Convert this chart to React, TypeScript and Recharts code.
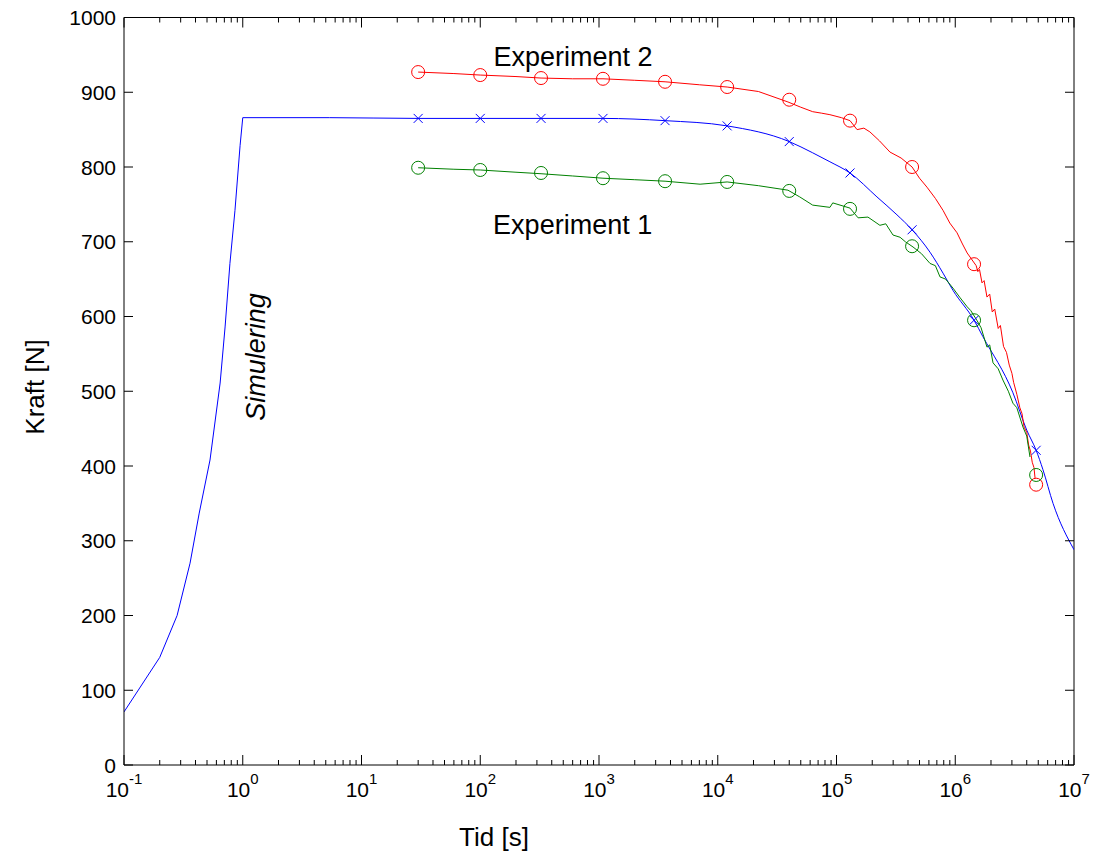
//
// Kraft vs tid: simulering och experiment (log x-axel)
//
import {
  ComposedChart,
  Line,
  Scatter,
  XAxis,
  YAxis,
  ReferenceLine,
  ReferenceDot,
} from 'recharts';

const FONT = '"Liberation Sans", Arial, Helvetica, sans-serif';

// plot box in page pixels (chart sits at 0,0)
const PLOT = { left: 124, right: 1074, top: 17.5, bottom: 765 };

// Simulering (blå) - pålastning, styckvis linjär
const simRiseX = [0.1, 0.2, 0.28, 0.36, 0.43, 0.53, 0.645, 0.71, 0.78, 0.86, 0.95, 1];
const simRiseY = [71, 144, 200, 270, 337, 408, 511, 586, 671, 742, 829, 866];
// Simulering (blå) - relaxation
const simX = [1, 5.4, 30, 100, 325, 1080, 3600, 12000, 40000, 63000, 88000, 130000, 219000, 323000, 433000, 613000, 789000, 957000, 1.44e6, 1.71e6, 3.06e6, 4.0e6, 4.8e6, 5.48e6, 6.66e6, 1e7];
const simY = [866, 866, 865, 865, 865, 865, 862, 855, 834, 819, 807, 792, 760, 736, 716, 686, 658, 635, 595, 573, 498, 448, 421, 395, 350, 288];

// markörer (samma tider för alla tre serier)
const markX = [30, 100, 325, 1080, 3600, 12000, 40000, 130000, 433000, 1.44e6, 4.8e6];
const simMarkY = [865, 865, 865, 865, 862, 855, 834, 792, 716, 595, 421];
const exp2MarkY = [927, 923, 919, 918, 914, 907, 890, 862, 800, 670, 375];
const exp1MarkY = [799, 796, 792, 785, 781, 780, 768, 744, 694, 595, 388];

// Experiment 2 (röd)
const exp2X = [30, 60, 100, 200, 325, 600, 1080, 2000, 3600, 7000, 12000, 22000, 39000, 50000, 63000, 75000, 88000, 110000, 130000, 149000, 170000, 191000, 230000, 282000, 350000, 433000, 500000, 578000, 680000, 789000, 900000, 1.035e6, 1.15e6, 1.26e6, 1.5e6, 1.55e6, 1.6e6, 1.68e6, 1.75e6, 1.85e6, 1.95e6, 2.05e6, 2.15e6, 2.3e6, 2.4e6, 2.55e6, 2.7e6, 2.85e6, 3.0e6, 3.1e6, 3.3e6, 3.5e6, 3.65e6, 3.8e6, 4.0e6, 4.15e6, 4.3e6, 4.45e6, 4.6e6, 4.7e6];
const exp2Y = [927, 925, 923, 921, 919, 918, 918, 916, 914, 910, 907, 901, 887, 880, 874, 872, 870, 866, 862, 850, 852, 847, 835, 820, 812, 800, 785, 773, 758, 742, 725, 712, 697, 685, 668, 660, 663, 645, 648, 626, 630, 606, 610, 584, 588, 560, 552, 535, 524, 512, 496, 478, 470, 452, 445, 428, 420, 405, 398, 384];

// Experiment 1 (grön)
const exp1X = [30, 60, 100, 200, 325, 600, 1080, 2000, 3600, 7100, 12000, 22000, 39000, 49000, 63000, 88000, 93000, 130000, 152000, 184000, 232000, 260000, 299000, 343000, 380000, 441000, 520000, 613000, 680000, 744000, 830000, 957000, 1.1e6, 1.26e6, 1.35e6, 1.52e6, 1.65e6, 1.85e6, 1.95e6, 2.08e6, 2.3e6, 2.52e6, 2.8e6, 3.06e6, 3.3e6, 3.72e6, 4.0e6, 4.26e6];
const exp1Y = [799, 797, 796, 793, 791, 788, 785, 783, 781, 777, 780, 775, 769, 760, 749, 746, 752, 745, 732, 733, 722, 724, 709, 706, 700, 693, 684, 671, 668, 653, 650, 638, 625, 613, 608, 595, 585, 559, 562, 538, 530, 515, 500, 484, 478, 452, 440, 412];

const decades = [-1, 0, 1, 2, 3, 4, 5, 6, 7];
const yTicks = [0, 100, 200, 300, 400, 500, 600, 700, 800, 900, 1000];

const toPoints = (xs: number[], ys: number[]) => xs.map((x, i) => ({ x, y: ys[i] }));

// major + minor ticks för log-axeln
const xTicks: number[] = [];
decades.forEach((d) => {
  xTicks.push(Math.pow(10, d));
  if (d < 7) for (let m = 2; m <= 9; m++) xTicks.push(m * Math.pow(10, d));
});

function XTick(props: any) {
  const { x, payload } = props;
  const lg = Math.log10(payload.value);
  const e = Math.round(lg);
  const major = Math.abs(lg - e) < 1e-6;
  const len = major ? 10 : 5;
  return (
    <g>
      <line x1={x} x2={x} y1={PLOT.bottom} y2={PLOT.bottom - len} stroke="#000" />
      <line x1={x} x2={x} y1={PLOT.top} y2={PLOT.top + len} stroke="#000" />
      {major && (
        <text x={x} y={PLOT.bottom + 32} textAnchor="middle" fontSize={21} fontFamily={FONT} fill="#000">
          10<tspan dy={-13} fontSize={15}>{e}</tspan>
        </text>
      )}
    </g>
  );
}

function YTick(props: any) {
  const { y, payload } = props;
  return (
    <g>
      <line x1={PLOT.left} x2={PLOT.left + 9} y1={y} y2={y} stroke="#000" />
      <line x1={PLOT.right} x2={PLOT.right - 9} y1={y} y2={y} stroke="#000" />
      <text x={PLOT.left - 8} y={y} dy="0.36em" textAnchor="end" fontSize={21} fontFamily={FONT} fill="#000">
        {payload.value}
      </text>
    </g>
  );
}

const circle = (color: string) => (p: any) => (
  <circle cx={p.cx} cy={p.cy} r={6.5} fill="none" stroke={color} strokeWidth={1} />
);

const cross = (p: any) => (
  <g stroke="#0000ff" strokeWidth={1}>
    <line x1={p.cx - 4.5} y1={p.cy - 4.5} x2={p.cx + 4.5} y2={p.cy + 4.5} />
    <line x1={p.cx - 4.5} y1={p.cy + 4.5} x2={p.cx + 4.5} y2={p.cy - 4.5} />
  </g>
);

const note = (text: string, rotate = false, italic = false) => (p: any) => {
  const vb = p.viewBox;
  const cx = vb.x + vb.width / 2;
  const cy = vb.y + vb.height / 2;
  return (
    <text
      x={cx}
      y={cy}
      textAnchor="middle"
      dominantBaseline="central"
      fontSize={27}
      fontFamily={FONT}
      fontStyle={italic ? 'italic' : 'normal'}
      fill="#000"
      transform={rotate ? `rotate(-90, ${cx}, ${cy})` : undefined}
    >
      {text}
    </text>
  );
};

export default function App() {
  return (
    <div style={{ position: 'fixed', left: 0, top: 0, background: '#fff' }}>
      <ComposedChart
        width={1102}
        height={852}
        margin={{ top: 17.5, right: 28, bottom: 37, left: 44 }}
      >
        <XAxis
          xAxisId={0}
          dataKey="x"
          type="number"
          scale="log"
          domain={[0.1, 1e7]}
          allowDataOverflow
          ticks={xTicks}
          interval={0}
          tick={<XTick />}
          tickLine={false}
          tickSize={0}
          tickMargin={0}
          height={50}
          axisLine={{ stroke: '#000' }}
          label={() => (
            <text x={494} y={837} textAnchor="middle" dominantBaseline="central" fontSize={26} fontFamily={FONT} fill="#000">
              Tid [s]
            </text>
          )}
        />
        <YAxis
          yAxisId={0}
          dataKey="y"
          type="number"
          domain={[0, 1000]}
          allowDataOverflow
          ticks={yTicks}
          interval={0}
          tick={<YTick />}
          tickLine={false}
          tickSize={0}
          tickMargin={0}
          width={80}
          axisLine={{ stroke: '#000' }}
          label={() => (
            <text x={35} y={387} textAnchor="middle" dominantBaseline="central" fontSize={26} fontFamily={FONT} fill="#000" transform="rotate(-90, 35, 387)">
              Kraft [N]
            </text>
          )}
        />
        <ReferenceLine y={1000} stroke="#000" />
        <ReferenceLine x={1e7} stroke="#000" />

        <Line data={toPoints(simRiseX, simRiseY)} dataKey="y" type="linear" stroke="#0000ff" strokeWidth={1} dot={false} isAnimationActive={false} />
        <Line data={toPoints(simX, simY)} dataKey="y" type="monotone" stroke="#0000ff" strokeWidth={1} dot={false} isAnimationActive={false} />
        <Line data={toPoints(exp2X, exp2Y)} dataKey="y" type="linear" stroke="#ff0000" strokeWidth={1} dot={false} isAnimationActive={false} />
        <Line data={toPoints(exp1X, exp1Y)} dataKey="y" type="linear" stroke="#008000" strokeWidth={1} dot={false} isAnimationActive={false} />

        <Scatter data={toPoints(markX, simMarkY)} dataKey="y" shape={cross} isAnimationActive={false} />
        <Scatter data={toPoints(markX, exp2MarkY)} dataKey="y" shape={circle('#ff0000')} isAnimationActive={false} />
        <Scatter data={toPoints(markX, exp1MarkY)} dataKey="y" shape={circle('#008000')} isAnimationActive={false} />

        <ReferenceDot x={604} y={947} r={1} fill="none" stroke="none" label={note('Experiment 2')} />
        <ReferenceDot x={600} y={722} r={1} fill="none" stroke="none" label={note('Experiment 1')} />
        <ReferenceDot x={1.3} y={546} r={1} fill="none" stroke="none" label={note('Simulering', true, true)} />
      </ComposedChart>
    </div>
  );
}
